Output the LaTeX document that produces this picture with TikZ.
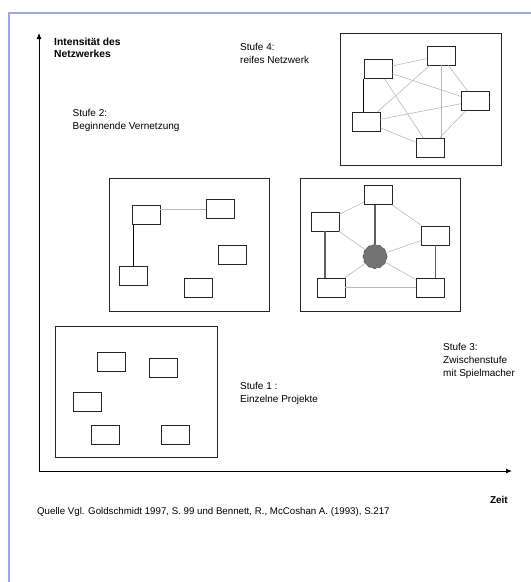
\documentclass[tikz,border=0pt]{standalone}
\usepackage{fontspec}
\setmainfont{Liberation Sans}
\usetikzlibrary{arrows.meta,calc}
\definecolor{frameblue}{RGB}{162,168,218}
\definecolor{edgegray}{RGB}{185,185,185}
\definecolor{spokegray}{RGB}{95,95,95}
\definecolor{hubgray}{RGB}{115,115,115}

\begin{document}
\begin{tikzpicture}[x=1pt,y=-1pt,
    proj/.style={draw=black!85,line width=0.8pt,fill=white,minimum width=28pt,minimum height=19pt,inner sep=0pt},
    stage/.style={draw=black!85,line width=0.8pt},
    weak/.style={draw=edgegray,line width=0.6pt},
    strong/.style={draw=black,line width=0.9pt},
    spoke/.style={draw=spokegray,line width=1.1pt},
    txt/.style={font=\fontsize{10}{13}\selectfont,align=left,inner sep=0pt,anchor=west},
    axis/.style={line width=0.9pt,-{Latex[length=6pt,width=5pt]}}]
        \useasboundingbox (0,0) rectangle (531,582);
        \draw[frameblue,line width=2.5pt] (9,582) -- (9,13) -- (531,13);
        % axes
        \coordinate (o) at (39,471);
        \coordinate (ytop) at (39,33);
        \coordinate (xend) at (512,471);
        \draw[axis] (o) -- (ytop);
        \draw[axis] (o) -- (xend);
        \node[txt,font=\fontsize{10.3}{11.5}\selectfont\bfseries] (ylab) at (54,48) {Intensität des\\Netzwerkes};
        \node[txt,font=\fontsize{10}{12}\selectfont\bfseries,anchor=east] (xlab) at (508,500) {Zeit};
        % stage frames
        \draw[stage] (55,326) rectangle (217,457);
        \draw[stage] (109,178.5) rectangle (269,311);
        \draw[stage] (300,178.5) rectangle (460,311);
        \draw[stage] (340,33) rectangle (501,165);
        % Stufe 1
        \foreach \n/\x/\y in {r1/111/362,r2/163/368,r3/87/401.5,r4/105/434.5,r5/175/434.5}
          \node[proj] (\n) at (\x,\y) {};
        \node[txt] (s1) at (240,393.5) {Stufe 1 :\\Einzelne Projekte};
        % Stufe 2
        \foreach \n/\x/\y in {p1/146/215,p2/220/209,p3/232/254.5,p4/133.5/275.5,p5/198/287.5}
          \node[proj] (\n) at (\x,\y) {};
        \draw[weak] (p1.east |- p2.west) -- (p2.west);
        \draw[strong] (p4.north |- p1.south) -- (p4.north);
        \node[txt] (s2) at (72.5,120.5) {Stufe 2:\\Beginnende Vernetzung};
        % Stufe 3
        \node[circle,fill=hubgray,draw=black!70,dashed,line width=0.6pt,minimum size=24pt,inner sep=0pt] (hub) at (375,256.5) {};
        \foreach \n/\x/\y in {q1/378/195,q2/325/221.5,q3/435.7/235.5,q4/331/287.5,q5/430/287.5}
          \node[proj] (\n) at (\x,\y) {};
        \foreach \a/\b in {q1/q2,q1/q3,q2/hub,q3/hub,q4/hub,q5/hub,q4/q5}
          \draw[weak] (\a) -- (\b);
        \draw[spoke] (hub.north) -- (hub.north |- q1.south);
        \draw[spoke] (q2.south) -- (q2.south |- q4.north);
        \draw[spoke] (q3.south) -- (q3.south |- q5.north);
        \node[txt] (s3) at (443,360.5) {Stufe 3:\\Zwischenstufe\\mit Spielmacher};
        % Stufe 4
        \foreach \n/\x/\y in {a/378/69,b/441/55.5,c/475/101,d/430/148,e/366/122}
          \node[proj] (\n) at (\x,\y) {};
        \foreach \a/\b in {a/b,a/c,a/d,b/c,b/e,c/d,c/e,d/e}
          \draw[weak] (\a) -- (\b);
        \draw[weak] (b.south) -- (b.south |- d.north);
        \draw[strong] (a.south west) -- (a.south west |- e.north);
        \node[txt] (s4) at (240,53.5) {Stufe 4:\\reifes Netzwerk};
        % source
        \node[txt,font=\fontsize{9.7}{11}\selectfont] (src) at (37,512) {Quelle Vgl. Goldschmidt 1997, S. 99 und Bennett, R., McCoshan A. (1993), S.217};
\end{tikzpicture}
\end{document}
